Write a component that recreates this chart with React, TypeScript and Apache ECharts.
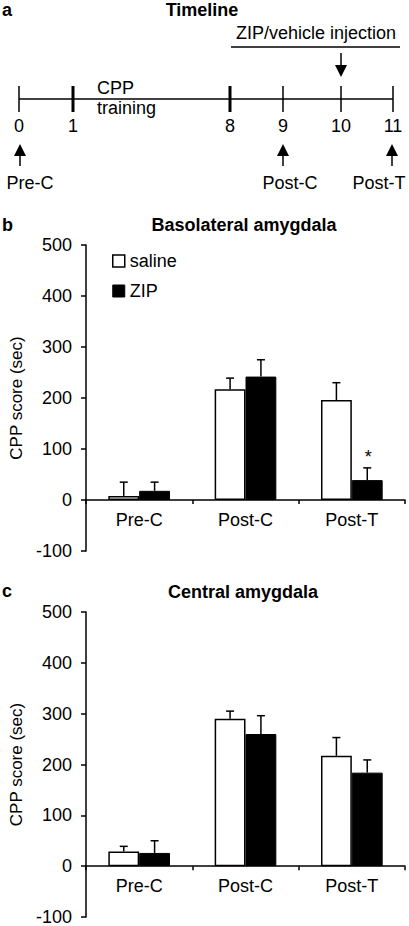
import React, { useEffect, useRef } from 'react';
import * as echarts from 'echarts';

// ---------- data ----------
const categories = ['Pre-C', 'Post-C', 'Post-T'];
const yMin = -100;
const yMax = 500;
const yStep = 100;

const blaSaline = [8, 217, 196];
const blaSalineSem = [27, 22, 34];
const blaZip = [18, 242, 39];
const blaZipSem = [17, 33, 24];
const blaZipMarks = ['', '', '*'];

const ceaSaline = [29, 290, 217];
const ceaSalineSem = [10, 15, 36];
const ceaZip = [26, 260, 184];
const ceaZipSem = [24, 36, 25];

const timelineDays = ['0', '1', '8', '9', '10', '11'];
const breakDays = ['1', '8'];
const testDays = ['0', '9', '11'];
const testLabels = ['Pre-C', 'Post-C', 'Post-T'];
const injectionDay = '10';

// ---------- layout ----------
const FONT = '"Liberation Sans", Arial, Helvetica, sans-serif';
const dayX: Record<string, number> = { '0': 19, '1': 73, '8': 230, '9': 283, '10': 341, '11': 393 };
const GAP = 0.42;
const grids = [
  { left: 81, top: 245, width: 324, height: 306 },
  { left: 81, top: 612, width: 324, height: 305 },
];

function timelineGraphics() {
  const els: any[] = [];
  const lineY = 99;
  els.push({ type: 'text', x: 2, y: 10, style: { text: 'a', font: `bold 18px ${FONT}`, fill: '#000', verticalAlign: 'middle' } });
  els.push({ type: 'text', x: 202, y: 10, style: { text: 'Timeline', font: `bold 18px ${FONT}`, fill: '#000', align: 'center', verticalAlign: 'middle' } });
  els.push({ type: 'text', x: 316, y: 33, style: { text: 'ZIP/vehicle injection', font: `18px ${FONT}`, fill: '#000', align: 'center', verticalAlign: 'middle' } });
  els.push({ type: 'line', shape: { x1: 231, y1: 47, x2: 400, y2: 47 }, style: { stroke: '#000', lineWidth: 1.5 } });
  const ix = dayX[injectionDay];
  els.push({ type: 'line', shape: { x1: ix, y1: 53, x2: ix, y2: 68 }, style: { stroke: '#000', lineWidth: 1.5 } });
  els.push({ type: 'polygon', shape: { points: [[ix - 6, 65], [ix + 6, 65], [ix, 77]] }, style: { fill: '#000' } });
  els.push({ type: 'line', shape: { x1: dayX['0'], y1: lineY, x2: dayX['11'], y2: lineY }, style: { stroke: '#000', lineWidth: 1.5 } });
  timelineDays.forEach((d) => {
    const x = dayX[d];
    const thick = breakDays.indexOf(d) >= 0;
    els.push({ type: 'line', shape: { x1: x, y1: 86, x2: x, y2: 112 }, style: { stroke: '#000', lineWidth: thick ? 3 : 1.5 } });
    els.push({ type: 'text', x, y: 126, style: { text: d, font: `18px ${FONT}`, fill: '#000', align: 'center', verticalAlign: 'middle' } });
  });
  els.push({ type: 'text', x: 97, y: 88, style: { text: 'CPP', font: `18px ${FONT}`, fill: '#000', verticalAlign: 'middle' } });
  els.push({ type: 'text', x: 97, y: 108, style: { text: 'training', font: `18px ${FONT}`, fill: '#000', verticalAlign: 'middle' } });
  testDays.forEach((d, i) => {
    const x = dayX[d] + (d === '11' ? -1 : d === '0' ? 1 : 0);
    els.push({ type: 'polygon', shape: { points: [[x, 144], [x - 6, 156], [x + 6, 156]] }, style: { fill: '#000' } });
    els.push({ type: 'line', shape: { x1: x, y1: 154, x2: x, y2: 166 }, style: { stroke: '#000', lineWidth: 1.5 } });
    const lx = i === 0 ? 30 : i === 1 ? 290 : 379;
    els.push({ type: 'text', x: lx, y: 183, style: { text: testLabels[i], font: `18px ${FONT}`, fill: '#000', align: 'center', verticalAlign: 'middle' } });
  });
  // panel headers
  els.push({ type: 'text', x: 2, y: 225, style: { text: 'b', font: `bold 18px ${FONT}`, fill: '#000', verticalAlign: 'middle' } });
  els.push({ type: 'text', x: 244, y: 225, style: { text: 'Basolateral amygdala', font: `bold 18px ${FONT}`, fill: '#000', align: 'center', verticalAlign: 'middle' } });
  els.push({ type: 'text', x: 2, y: 591, style: { text: 'c', font: `bold 18px ${FONT}`, fill: '#000', verticalAlign: 'middle' } });
  els.push({ type: 'text', x: 243, y: 592, style: { text: 'Central amygdala', font: `bold 18px ${FONT}`, fill: '#000', align: 'center', verticalAlign: 'middle' } });
  return els;
}

function errData(saline: number[], salineSem: number[], zip: number[], zipSem: number[]) {
  const out: any[] = [];
  saline.forEach((v, i) => out.push([i, v, salineSem[i], 0]));
  zip.forEach((v, i) => out.push([i, v, zipSem[i], 1]));
  return out;
}

function errorSeries(idx: number, data: any[], marks: string[] | null) {
  return {
    type: 'custom',
    xAxisIndex: idx,
    yAxisIndex: idx,
    z: 5,
    silent: true,
    data,
    renderItem: (params: any, api: any) => {
      const cat = api.value(0);
      const mean = api.value(1);
      const err = api.value(2);
      const grp = api.value(3);
      const catW = api.size([1, 0])[0];
      const bw = (catW * (1 - GAP)) / 2;
      const base = api.coord([cat, mean]);
      const x = base[0] + (grp === 0 ? -bw / 2 : bw / 2);
      const y0 = base[1];
      const y1 = api.coord([cat, mean + err])[1];
      const children: any[] = [
        { type: 'line', shape: { x1: x, y1: y0, x2: x, y2: y1 }, style: { stroke: '#000', lineWidth: 1.5 } },
        { type: 'line', shape: { x1: x - 4, y1: y1, x2: x + 4, y2: y1 }, style: { stroke: '#000', lineWidth: 1.5 } },
      ];
      if (marks && grp === 1) {
        const m = marks[cat];
        if (m) {
          children.push({ type: 'text', x: x + 1, y: y1 - 11, style: { text: m, fontSize: 18, fontFamily: FONT, fill: '#000', align: 'center', verticalAlign: 'middle' } });
        }
      }
      return { type: 'group', children };
    },
  };
}

function axes(idx: number) {
  const h = grids[idx].height;
  const zeroOffset = -(h * (0 - yMin)) / (yMax - yMin);
  const x = {
    type: 'category',
    gridIndex: idx,
    data: categories,
    position: 'bottom',
    offset: zeroOffset,
    axisLine: { onZero: false, lineStyle: { color: '#000', width: 1.5 } },
    axisTick: { show: true, length: 4, lineStyle: { color: '#000', width: 1.5 } },
    axisLabel: { color: '#000', fontSize: 18, fontFamily: FONT, margin: 11 },
    splitLine: { show: false },
  };
  const y = {
    type: 'value',
    gridIndex: idx,
    min: yMin,
    max: yMax,
    interval: yStep,
    name: 'CPP score (sec)',
    nameLocation: 'middle',
    nameGap: 61,
    nameRotate: 90,
    nameTextStyle: { color: '#000', fontSize: 17, fontFamily: FONT },
    axisLine: { show: true, lineStyle: { color: '#000', width: 1.5 } },
    axisTick: { show: true, length: 5, lineStyle: { color: '#000', width: 1.5 } },
    axisLabel: { color: '#000', fontSize: 18, fontFamily: FONT, margin: 14 },
    splitLine: { show: false },
  };
  return { x, y };
}

export default function App() {
  const ref = useRef<HTMLDivElement>(null);
  useEffect(() => {
    if (!ref.current) return;
    const chart = echarts.init(ref.current, null, { renderer: 'svg' });
    const a0 = axes(0);
    const a1 = axes(1);
    const salineStyle = { color: '#fff', borderColor: '#000', borderWidth: 1.5 };
    const zipStyle = { color: '#000', borderColor: '#000', borderWidth: 1 };
    chart.setOption({
      animation: false,
      textStyle: { fontFamily: FONT },
      grid: grids,
      xAxis: [a0.x, a1.x],
      yAxis: [a0.y, a1.y],
      legend: {
        show: true,
        orient: 'vertical',
        left: 107,
        top: 247,
        itemWidth: 12,
        itemHeight: 12,
        itemGap: 12,
        selectedMode: false,
        icon: 'rect',
        textStyle: { color: '#000', fontSize: 18, fontFamily: FONT },
        data: [
          { name: 'saline', itemStyle: salineStyle },
          { name: 'ZIP', itemStyle: zipStyle },
        ],
      },
      series: [
        { name: 'saline', type: 'bar', xAxisIndex: 0, yAxisIndex: 0, data: blaSaline, itemStyle: salineStyle, barGap: '0%', barCategoryGap: '42%' },
        { name: 'ZIP', type: 'bar', xAxisIndex: 0, yAxisIndex: 0, data: blaZip, itemStyle: zipStyle, barGap: '0%', barCategoryGap: '42%' },
        { name: 'saline', type: 'bar', xAxisIndex: 1, yAxisIndex: 1, data: ceaSaline, itemStyle: salineStyle, barGap: '0%', barCategoryGap: '42%' },
        { name: 'ZIP', type: 'bar', xAxisIndex: 1, yAxisIndex: 1, data: ceaZip, itemStyle: zipStyle, barGap: '0%', barCategoryGap: '42%' },
        errorSeries(0, errData(blaSaline, blaSalineSem, blaZip, blaZipSem), blaZipMarks),
        errorSeries(1, errData(ceaSaline, ceaSalineSem, ceaZip, ceaZipSem), null),
      ],
      graphic: timelineGraphics(),
    });
    return () => chart.dispose();
  }, []);
  return <div ref={ref} style={{ position: 'fixed', left: 0, top: 0, width: 409, height: 926, background: '#fff' }} />;
}
